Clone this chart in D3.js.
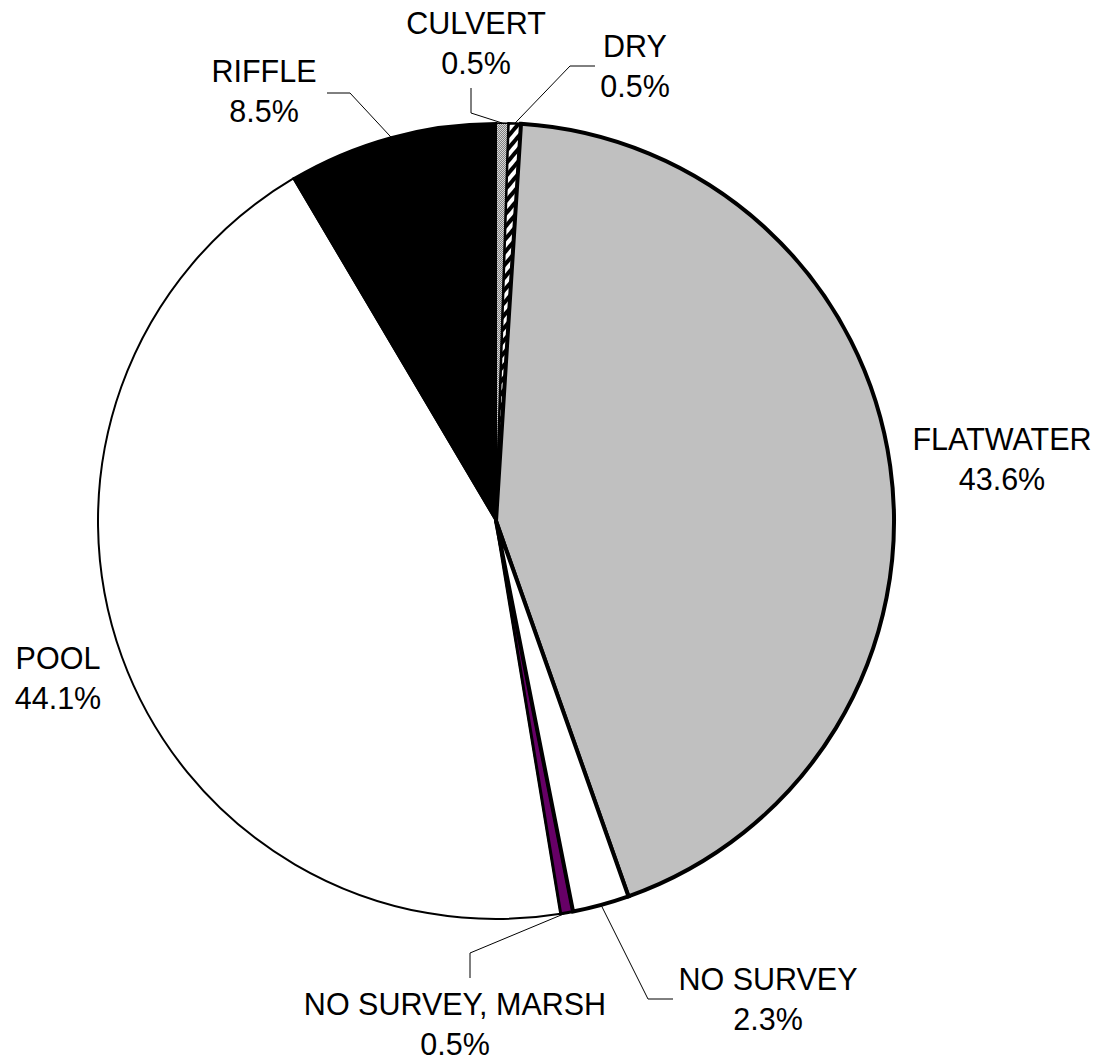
<!DOCTYPE html>
<html>
<head>
<meta charset="utf-8">
<script src="https://cdn.jsdelivr.net/npm/d3@7"></script>
<style>
  html, body { margin: 0; padding: 0; background: #fff; }
  svg { display: block; }
  text { font-family: "Liberation Sans", Arial, sans-serif; font-size: 30.5px; fill: #000; }
</style>
</head>
<body>
<svg id="chart" width="1107" height="1060"></svg>
<script>
// Habitat type shares (percent of surveyed length)
const categories = ["CULVERT", "DRY", "FLATWATER", "NO SURVEY", "NO SURVEY, MARSH", "POOL", "RIFFLE"];
const percents   = [0.5, 0.5, 43.6, 2.3, 0.5, 44.1, 8.5];

const fills   = ["url(#stipple)", "url(#stripes)", "#c0c0c0", "#ffffff", "#660066", "#ffffff", "#000000"];
const strokes = [1.5, 2.5, 4, 4, 3, 2, 2];

// Label placement: text anchor point and the leader path's elbow(s) (null = no leader)
const labelPos = [
  { x: 476, y: 34,   elbow: [[471, 113], [471, 88]] },
  { x: 635, y: 57,   elbow: [[570, 66], [595, 66]] },
  { x: 1002, y: 450, elbow: null },
  { x: 768, y: 990,  elbow: [[648, 999], [673, 999]] },
  { x: 455, y: 1015, elbow: [[470, 953], [470, 978]] },
  { x: 58, y: 669,   elbow: null },
  { x: 264, y: 82,   elbow: [[350, 93], [327, 93]] }
];
const lineGap = 40;

const cx = 496, cy = 521, R = 398;
const svg = d3.select("#chart");
const defs = svg.append("defs");

// fine gray stipple
const st = defs.append("pattern").attr("id", "stipple")
  .attr("width", 2).attr("height", 2).attr("patternUnits", "userSpaceOnUse");
st.append("rect").attr("width", 2).attr("height", 2).attr("fill", "#d8d8d8");
st.append("rect").attr("width", 1).attr("height", 1).attr("fill", "#808080");
st.append("rect").attr("x", 1).attr("y", 1).attr("width", 1).attr("height", 1).attr("fill", "#808080");

// wide diagonal stripes
const sp = defs.append("pattern").attr("id", "stripes")
  .attr("width", 8).attr("height", 8).attr("patternUnits", "userSpaceOnUse")
  .attr("patternTransform", "rotate(40)");
sp.append("rect").attr("width", 8).attr("height", 8).attr("fill", "#fff");
sp.append("rect").attr("width", 4).attr("height", 8).attr("fill", "#000");

const data = categories.map((c, i) => ({ name: c, value: percents[i], i }));
const pie = d3.pie().value(d => d.value).sort(null).startAngle(0).endAngle(2 * Math.PI);
const arcs = pie(data);
const arc = d3.arc().innerRadius(0).outerRadius(R);

const g = svg.append("g").attr("transform", `translate(${cx},${cy})`);

// draw thin-bordered slices first so heavier borders sit on top
const order = arcs.slice().sort((a, b) => strokes[a.index] - strokes[b.index]);
g.selectAll("path.slice").data(order).join("path")
  .attr("class", "slice")
  .attr("d", arc)
  .attr("fill", d => fills[d.index])
  .attr("stroke", "#000")
  .attr("stroke-width", d => strokes[d.index])
  .attr("stroke-linejoin", "miter");

// leader lines from slice mid-point on the rim
arcs.forEach((a, i) => {
  const lp = labelPos[i];
  if (!lp.elbow) return;
  const mid = (a.startAngle + a.endAngle) / 2;
  const p0 = [cx + R * Math.sin(mid), cy - R * Math.cos(mid)];
  const pts = [p0].concat(lp.elbow);
  svg.append("path")
    .attr("d", d3.line()(pts))
    .attr("fill", "none")
    .attr("stroke", "#000")
    .attr("stroke-width", 1);
});

// labels: name and percentage
const fmt = d3.format(".1f");
arcs.forEach((a, i) => {
  const lp = labelPos[i];
  const t = svg.append("text").attr("text-anchor", "middle");
  t.append("tspan").attr("x", lp.x).attr("y", lp.y).text(a.data.name);
  t.append("tspan").attr("x", lp.x).attr("y", lp.y + lineGap).text(fmt(a.data.value) + "%");
});
</script>
</body>
</html>
